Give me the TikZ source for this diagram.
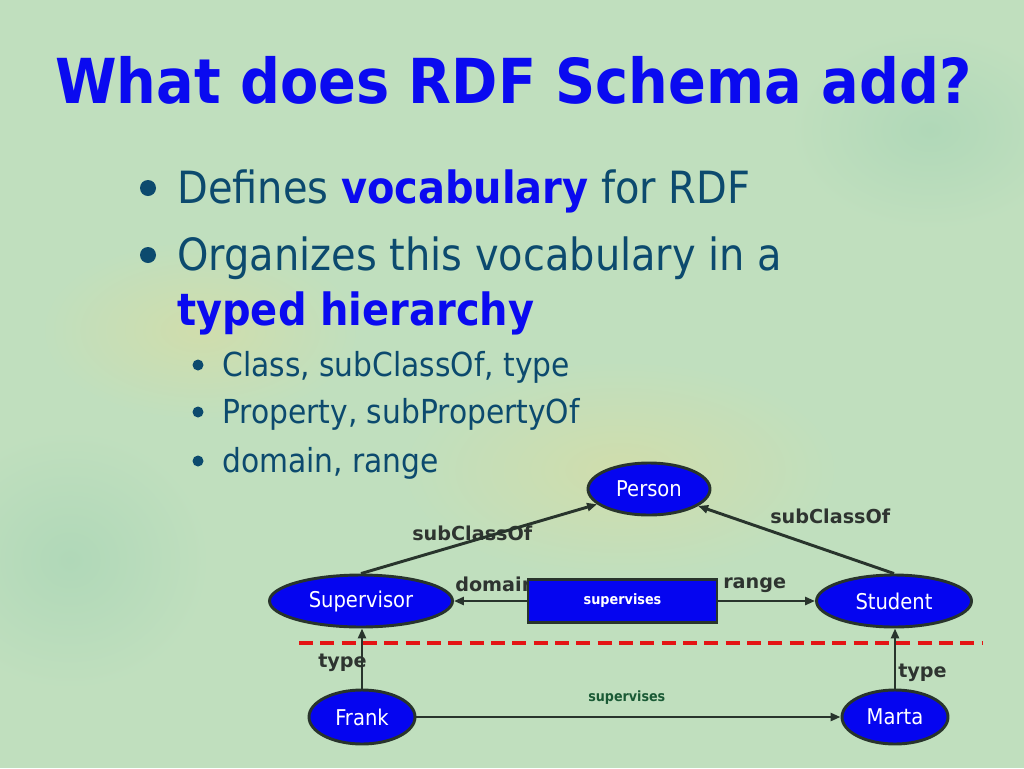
\documentclass[tikz,border=0pt]{standalone}
\usepackage{fontspec}
\setmainfont{DejaVu Sans Condensed}
\newfontfamily\widefont{DejaVu Sans}
\usetikzlibrary{arrows.meta,shapes.geometric}
\definecolor{bg}{RGB}{192,223,190}
\definecolor{bgyel}{RGB}{208,221,172}
\definecolor{bggrn}{RGB}{176,216,184}
\definecolor{titleblue}{RGB}{10,10,240}
\definecolor{teal}{RGB}{12,74,110}
\definecolor{nodeblue}{RGB}{5,5,240}
\definecolor{edgedark}{RGB}{40,52,44}
\definecolor{labdark}{RGB}{46,52,48}
\definecolor{supgreen}{RGB}{26,90,53}
\definecolor{dashred}{RGB}{228,20,20}
\tikzset{
  ell/.style={ellipse, draw=edgedark, fill=nodeblue, line width=2.2pt, text=white,
    font=\fontsize{16.3pt}{19pt}\selectfont, inner sep=0pt},
  arr/.style={draw=edgedark, line width=2.2pt, -{Triangle[length=7.5pt,width=6pt]}},
  lab/.style={anchor=base west, inner sep=0pt, text=labdark, font=\widefont\bfseries\fontsize{14.4pt}{17pt}\selectfont},
  lvlone/.style={anchor=base west, inner sep=0pt, text=teal, font=\fontsize{33.3pt}{40pt}\selectfont},
  lvltwo/.style={anchor=base west, inner sep=0pt, text=teal, font=\fontsize{24.8pt}{30pt}\selectfont},
}
\begin{document}
\begin{tikzpicture}[x=0.75pt,y=-0.75pt]
\useasboundingbox (0,0) rectangle (1024,768);
\fill[bg] (0,0) rectangle (1024,768);
\shade[inner color=bgyel, outer color=bg] (620,470) ellipse [x radius=220, y radius=110];
\shade[inner color=bgyel, outer color=bg] (200,330) ellipse [x radius=160, y radius=90];
\shade[inner color=bggrn, outer color=bg] (70,560) ellipse [x radius=140, y radius=130];
\shade[inner color=bggrn, outer color=bg] (930,130) ellipse [x radius=140, y radius=100];

% title
\node[anchor=base west, inner sep=0pt, text=titleblue, font=\bfseries\fontsize{46.5pt}{54pt}\selectfont] (title) at (55,103) {What does RDF Schema add?};

% bullets
\fill[teal] (148,188) circle [radius=8];
\node[lvlone] (b1) at (177,203) {Defines \textcolor{titleblue}{\bfseries vocabulary} for RDF};
\fill[teal] (148,255) circle [radius=8];
\node[lvlone] (b2) at (177,270) {Organizes this vocabulary in a};
\node[lvlone, text=titleblue, font=\bfseries\fontsize{33.3pt}{40pt}\selectfont] (b2b) at (177,325) {typed hierarchy};
\fill[teal] (198,365) circle [radius=5.5];
\node[lvltwo] (s1) at (222,376) {Class, subClassOf, type};
\fill[teal] (198,412) circle [radius=5.5];
\node[lvltwo] (s2) at (222,423) {Property, subPropertyOf};
\fill[teal] (198,461) circle [radius=5.5];
\node[lvltwo] (s3) at (222,472) {domain, range};

% edge labels (drawn first, under the shapes)
\node[lab] (l1) at (412,540) {subClassOf};
\node[lab] (l2) at (770,523) {subClassOf};
\node[lab] (l3) at (455,591) {domain};
\node[lab] (l4) at (723,588) {range};
\node[lab] (l5) at (318,667) {type};
\node[lab] (l6) at (898,677) {type};
\node[anchor=base west, inner sep=0pt, text=supgreen, font=\bfseries\fontsize{10.6pt}{12pt}\selectfont] (l7) at (588,701) {supervises};

% diagram nodes
\node[ell, minimum width={122*0.75pt}, minimum height={52*0.75pt}] (person) at (649,489) {Person};
\node[ell, minimum width={183*0.75pt}, minimum height={52*0.75pt}] (sup) at (361,601) {Supervisor};
\node[ell, minimum width={155*0.75pt}, minimum height={52*0.75pt}] (stu) at (894,601) {Student};
\node[ell, minimum width={106*0.75pt}, minimum height={54*0.75pt}] (frank) at (362,717) {Frank};
\node[ell, minimum width={106*0.75pt}, minimum height={54*0.75pt}] (marta) at (895,717) {Marta};
\node[draw=edgedark, fill=nodeblue, line width=2.2pt, minimum width={189*0.75pt}, minimum height={43*0.75pt}, inner sep=0pt, text=white, font=\bfseries\fontsize{10.7pt}{12pt}\selectfont] (box) at (622.5,601) {supervises};

% dashed separator
\coordinate (dl) at (299,643);
\coordinate (dr) at (983,643);
\draw[dashred, line width=2.4pt, dash pattern=on 10.5pt off 5.5pt] (dl) -- (dr);

% connectors
\draw[arr] (sup.north) -- (person);
\draw[arr] (stu.north) -- (person);
\draw[arr] (box.west) -- (sup.east);
\draw[arr] (box.east) -- (stu.west);
\draw[arr] (frank.north) -- (frank.north |- sup.south);
\draw[arr] (marta.north) -- (marta.north |- stu.south);
\draw[arr] (frank.east) -- (marta.west);
\end{tikzpicture}
\end{document}
